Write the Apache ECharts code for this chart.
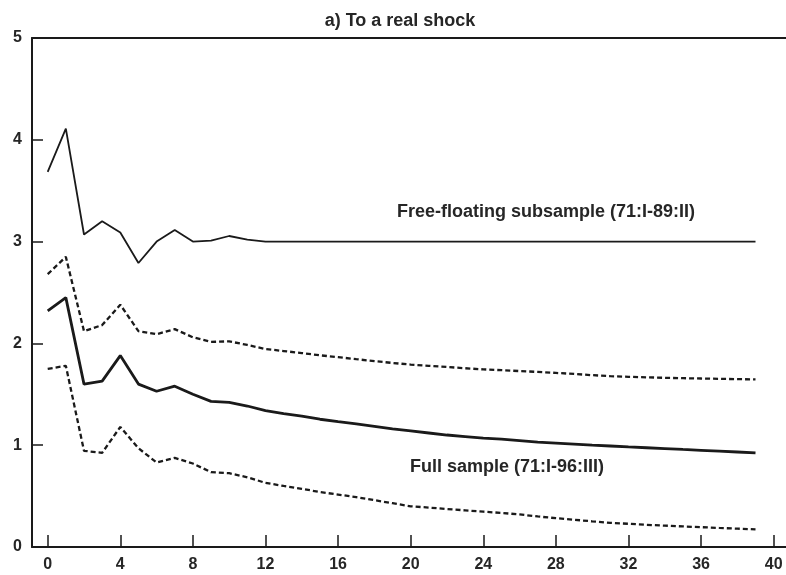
<!DOCTYPE html>
<html>
<head>
<meta charset="utf-8">
<script src="https://cdn.jsdelivr.net/npm/echarts@6/dist/echarts.min.js"></script>
<style>
html,body{margin:0;padding:0;background:#fff;}
#chart{width:786px;height:575px;}
</style>
</head>
<body>
<div id="chart"></div>
<script>
// Horizon (quarters after the shock)
const horizon = [0,1,2,3,4,5,6,7,8,9,10,11,12,13,14,15,16,17,18,19,20,21,22,23,24,25,26,27,28,29,30,31,32,33,34,35,36,37,38,39];

// Free-floating subsample (71:I-89:II)
const freeFloating = [3.685,4.11,3.07,3.20,3.09,2.79,3.00,3.115,3.00,3.01,3.055,3.02,3.00,3.00,3.00,3.00,3.00,3.00,3.00,3.00,3.00,3.00,3.00,3.00,3.00,3.00,3.00,3.00,3.00,3.00,3.00,3.00,3.00,3.00,3.00,3.00,3.00,3.00,3.00,3.00];

// Full sample (71:I-96:III) point estimate
const fullSample = [2.32,2.45,1.60,1.63,1.88,1.60,1.53,1.58,1.50,1.43,1.42,1.385,1.34,1.31,1.285,1.255,1.232,1.21,1.185,1.16,1.14,1.12,1.10,1.085,1.07,1.06,1.045,1.03,1.02,1.01,1.00,0.992,0.983,0.975,0.967,0.958,0.95,0.942,0.933,0.924];

// Full sample confidence bands
const fullUpper = [2.68,2.85,2.12,2.18,2.38,2.12,2.09,2.14,2.06,2.015,2.02,1.985,1.945,1.925,1.905,1.883,1.865,1.845,1.826,1.808,1.792,1.78,1.768,1.756,1.745,1.737,1.728,1.72,1.71,1.70,1.688,1.678,1.672,1.667,1.662,1.658,1.655,1.652,1.649,1.646];
const fullLower = [1.75,1.78,0.945,0.925,1.18,0.97,0.83,0.875,0.82,0.735,0.725,0.685,0.63,0.60,0.572,0.54,0.515,0.49,0.46,0.43,0.40,0.387,0.373,0.36,0.347,0.335,0.32,0.30,0.283,0.268,0.252,0.237,0.228,0.218,0.21,0.202,0.195,0.187,0.18,0.173];

// Tick labels
const xTicks = [0,4,8,12,16,20,24,28,32,36,40];
const yTicks = [0,1,2,3,4,5];

const titleText = 'a) To a real shock';
const freeLabel = 'Free-floating subsample (71:I-89:II)';
const fullLabel = 'Full sample (71:I-96:III)';

const pairs = arr => horizon.map((h, i) => [h, arr[i]]);

const ink = '#1a1a1a';
const txt = '#262626';
const font = '"Liberation Sans", Arial, Helvetica, sans-serif';

const chart = echarts.init(document.getElementById('chart'), null, {renderer: 'canvas'});

const option = {
  animation: false,
  backgroundColor: '#ffffff',
  title: {
    text: titleText,
    left: 395,
    top: 7,
    textAlign: 'center',
    textStyle: {fontFamily: font, fontSize: 18, fontWeight: 'bold', color: txt}
  },
  grid: {left: 32, right: 0, top: 38, bottom: 28, containLabel: false, outerBoundsMode: 'none'},
  xAxis: [{
    type: 'value',
    position: 'bottom',
    min: -0.865,
    max: 40.68,
    splitLine: {show: false},
    axisLine: {show: true, onZero: false, lineStyle: {color: ink, width: 2}},
    axisTick: {show: true, inside: true, length: 12, customValues: xTicks, lineStyle: {color: ink, width: 1.5}},
    axisLabel: {show: true, customValues: xTicks, margin: 10, fontFamily: font, fontSize: 16, fontWeight: 'bold', color: txt}
  }, {
    type: 'value',
    position: 'top',
    min: -0.865,
    max: 40.68,
    splitLine: {show: false},
    axisLine: {show: true, onZero: false, lineStyle: {color: ink, width: 2}},
    axisTick: {show: false},
    axisLabel: {show: false}
  }],
  yAxis: {
    type: 'value',
    min: 0,
    max: 5,
    interval: 1,
    splitLine: {show: false},
    axisLine: {show: true, onZero: false, lineStyle: {color: ink, width: 2}},
    axisTick: {show: true, inside: true, length: 11, customValues: yTicks.slice(1, 5), lineStyle: {color: ink, width: 1.5}},
    axisLabel: {show: true, customValues: yTicks, margin: 10, fontFamily: font, fontSize: 16, fontWeight: 'bold', color: txt}
  },
  series: [
    {
      name: freeLabel, type: 'line', data: pairs(freeFloating), showSymbol: false, symbol: 'none',
      lineStyle: {color: ink, width: 1.8, type: 'solid'}, z: 3
    },
    {
      name: 'Full upper', type: 'line', data: pairs(fullUpper), showSymbol: false, symbol: 'none',
      lineStyle: {color: ink, width: 2.3, type: [5, 3]}, z: 3
    },
    {
      name: fullLabel, type: 'line', data: pairs(fullSample), showSymbol: false, symbol: 'none',
      lineStyle: {color: ink, width: 2.8, type: 'solid'}, z: 3
    },
    {
      name: 'Full lower', type: 'line', data: pairs(fullLower), showSymbol: false, symbol: 'none',
      lineStyle: {color: ink, width: 2.3, type: [5, 3]}, z: 3
    }
  ],
  graphic: [
    {type: 'text', left: 397, top: 203, style: {text: freeLabel, fontFamily: font, fontSize: 18, fontWeight: 'bold', fill: txt}},
    {type: 'text', left: 410, top: 458, style: {text: fullLabel, fontFamily: font, fontSize: 18, fontWeight: 'bold', fill: txt}}
  ]
};

chart.setOption(option);
</script>
</body>
</html>
